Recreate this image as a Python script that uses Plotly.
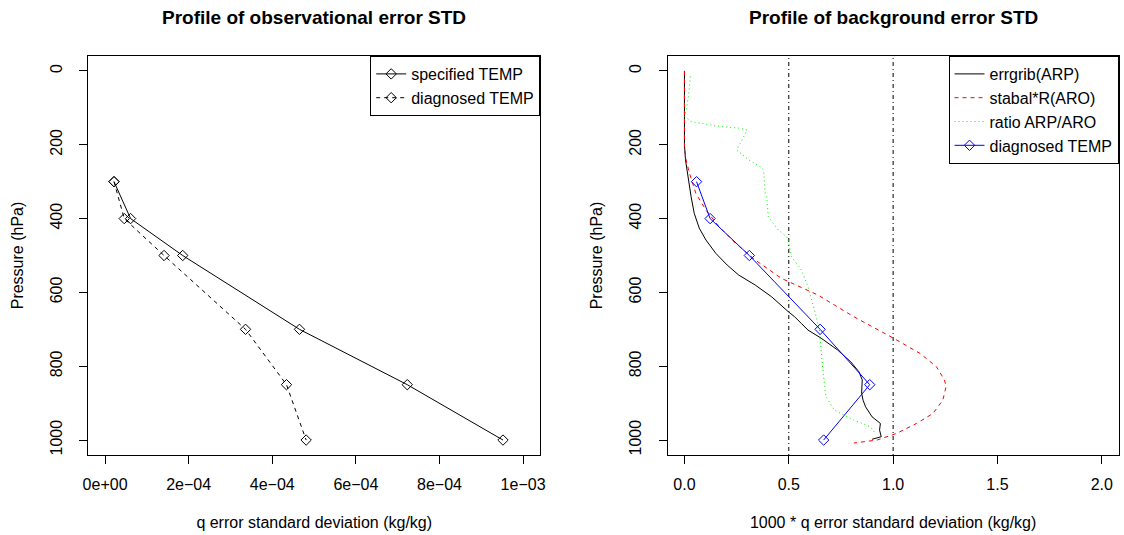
import plotly.graph_objects as go

W, H = 1124, 535

# ---------------- data ----------------
levels = [300, 400, 500, 700, 850, 1000]
spec_temp = [2.13e-5, 6.1e-5, 1.857e-4, 4.65e-4, 7.23e-4, 9.52e-4]
diag_temp = [2.13e-5, 4.58e-5, 1.41e-4, 3.36e-4, 4.34e-4, 4.81e-4]

diag_temp_bg = [0.058, 0.123, 0.311, 0.650, 0.888, 0.667]

errgrib_p = [0, 100, 200, 241, 286, 341, 386, 426, 458, 494, 526, 553, 580, 612,
             652, 666, 684, 702, 724, 756, 788, 815, 837, 855, 874, 892, 910, 937,
             955, 973, 991, 998]
errgrib_v = [0.0, 0.0, 0.0, 0.005, 0.016, 0.032, 0.047, 0.071, 0.103, 0.150, 0.205,
             0.260, 0.339, 0.418, 0.497, 0.528, 0.560, 0.592, 0.655, 0.734, 0.797,
             0.836, 0.852, 0.851, 0.849, 0.856, 0.868, 0.899, 0.939, 0.935, 0.943, 0.899]

stabal_p = [0, 100, 205, 241, 277, 332, 377, 422, 467, 512, 562, 607, 666, 724, 765,
            801, 837, 855, 892, 928, 955, 982, 1000, 1008]
stabal_v = [0.0, 0.0, 0.0, 0.008, 0.024, 0.055, 0.103, 0.166, 0.245, 0.339, 0.465,
            0.639, 0.812, 1.002, 1.128, 1.207, 1.246, 1.254, 1.238, 1.191, 1.112,
            1.017, 0.923, 0.812]

ratio_p = [15, 61, 106, 124, 137, 149, 155, 160, 187, 214, 241, 259, 268, 304, 332,
           341, 395, 431, 449, 458, 503, 539, 584, 648, 702, 756, 810, 882, 919, 946,
           964, 982]
ratio_v = [0.028, 0.021, 0.008, 0.002, 0.032, 0.150, 0.260, 0.300, 0.276, 0.250,
           0.308, 0.363, 0.379, 0.383, 0.387, 0.394, 0.402, 0.450, 0.490, 0.497,
           0.513, 0.560, 0.592, 0.623, 0.647, 0.655, 0.663, 0.678, 0.718, 0.812,
           0.891, 0.915]

vlines = [0.5, 1.0]

p_ticks = [0, 200, 400, 600, 800, 1000]
x1_ticks = [0, 2e-4, 4e-4, 6e-4, 8e-4, 1e-3]
x1_ticktext = ["0e+00", "2e\u221204", "4e\u221204", "6e\u221204", "8e\u221204", "1e\u221203"]
x2_ticks = [0, 0.5, 1.0, 1.5, 2.0]
x2_ticktext = ["0.0", "0.5", "1.0", "1.5", "2.0"]

# ---------------- figure ----------------
FONT = "Liberation Sans, Arial, sans-serif"
FS = 16
fig = go.Figure()

mk = dict(symbol="diamond-open", size=8, line=dict(width=1))
DASH = "4px,4px"

fig.add_trace(go.Scatter(x=spec_temp, y=levels, mode="lines+markers", name="specified TEMP",
                         line=dict(color="black", width=1), marker=dict(color="black", **mk),
                         xaxis="x", yaxis="y", legend="legend"))
fig.add_trace(go.Scatter(x=diag_temp, y=levels, mode="lines+markers", name="diagnosed TEMP",
                         line=dict(color="black", width=1, dash=DASH), marker=dict(color="black", **mk),
                         xaxis="x", yaxis="y", legend="legend"))

fig.add_trace(go.Scatter(x=errgrib_v, y=errgrib_p, mode="lines", name="errgrib(ARP)",
                         line=dict(color="black", width=1), xaxis="x2", yaxis="y2", legend="legend2"))
fig.add_trace(go.Scatter(x=stabal_v, y=stabal_p, mode="lines", name="stabal*R(ARO)",
                         line=dict(color="#FF0000", width=1, dash=DASH), xaxis="x2", yaxis="y2", legend="legend2"))
fig.add_trace(go.Scatter(x=ratio_v, y=ratio_p, mode="lines", name="ratio ARP/ARO",
                         line=dict(color="#00EE00", width=1, dash="1px,3px"), xaxis="x2", yaxis="y2", legend="legend2"))
fig.add_trace(go.Scatter(x=diag_temp_bg, y=levels, mode="lines+markers", name="diagnosed TEMP",
                         line=dict(color="#0000FF", width=1), marker=dict(color="#0000FF", **mk),
                         xaxis="x2", yaxis="y2", legend="legend2"))

for v in vlines:
    fig.add_shape(type="line", x0=v, x1=v, xref="x2", y0=0, y1=1, yref="y2 domain",
                  line=dict(color="black", width=1, dash="1px,3px,4px,3px"), layer="below")

ydom = [1 - 455 / H, 1 - 56 / H]
x1dom = [84 / W, 540 / W]
x2dom = [668.7 / W, 1123.5 / W]

axis_common = dict(showline=True, linecolor="black", linewidth=1, mirror=True,
                   ticks="outside", ticklen=8, tickcolor="black", tickwidth=1,
                   showgrid=False, zeroline=False,
                   tickfont=dict(family=FONT, size=FS, color="black"))
xcommon = dict(ticklabelstandoff=7, **axis_common)
ycommon = dict(ticklabelstandoff=11, tickangle=-90, **axis_common)
tfont = dict(family=FONT, size=FS, color="black")

fig.update_layout(
    width=W, height=H, margin=dict(l=0, r=0, t=0, b=0),
    plot_bgcolor="white", paper_bgcolor="white",
    font=dict(family=FONT, size=FS, color="black"),
    xaxis=dict(domain=x1dom, range=[-4.03e-5, 1.041e-3], tickvals=x1_ticks, ticktext=x1_ticktext,
               anchor="y", title=dict(text="q error standard deviation (kg/kg)", standoff=24, font=tfont),
               **xcommon),
    yaxis=dict(domain=ydom, range=[1040.5, -40.5], tickvals=p_ticks,
               anchor="x", title=dict(text="Pressure (hPa)", standoff=20, font=tfont), **ycommon),
    xaxis2=dict(domain=x2dom, range=[-0.08, 2.08], tickvals=x2_ticks, ticktext=x2_ticktext,
                anchor="y2", title=dict(text="1000 * q error standard deviation (kg/kg)", standoff=24,
                                        font=tfont), **xcommon),
    yaxis2=dict(domain=ydom, range=[1040.5, -40.5], tickvals=p_ticks,
                anchor="x2", title=dict(text="Pressure (hPa)", standoff=20, font=tfont), **ycommon),
    legend=dict(x=540 / W, y=1 - 56 / H, xanchor="right", yanchor="top",
                bordercolor="black", borderwidth=1, bgcolor="white",
                font=dict(family=FONT, size=FS), tracegroupgap=0, itemwidth=30),
    legend2=dict(x=1123.5 / W, y=1 - 56 / H, xanchor="right", yanchor="top",
                 bordercolor="black", borderwidth=1, bgcolor="white",
                 font=dict(family=FONT, size=FS), tracegroupgap=0, itemwidth=30),
    showlegend=True,
)

fig.add_annotation(text="<b>Profile of observational error STD</b>", xref="x domain", yref="paper",
                   x=0.5, y=1 - 18 / H, yanchor="middle", showarrow=False,
                   font=dict(family=FONT, size=19, color="black"))
fig.add_annotation(text="<b>Profile of background error STD</b>", xref="x2 domain", yref="paper",
                   x=0.5, y=1 - 18 / H, yanchor="middle", showarrow=False,
                   font=dict(family=FONT, size=19, color="black"))

fig.write_html("out.html")
